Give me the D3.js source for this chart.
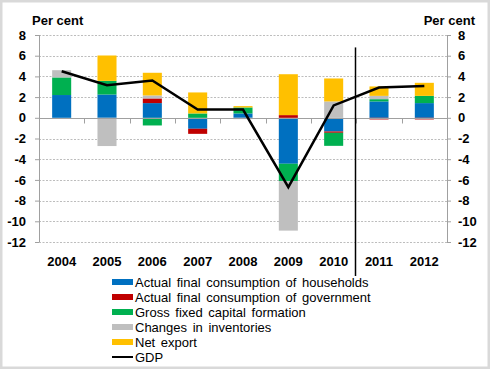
<!DOCTYPE html>
<html>
<head>
<meta charset="utf-8">
<script src="https://cdn.jsdelivr.net/npm/d3@7"></script>
<style>
  body { margin: 0; background: #fff; }
  text { font-family: "Liberation Sans", Arial, sans-serif; fill: #000; }
</style>
</head>
<body>
<div id="chart"></div>
<script>
var years = ["2004", "2005", "2006", "2007", "2008", "2009", "2010", "2011", "2012"];
var households  = [2.2, 2.25, 1.42, -1.06, 0.42, -4.44, -1.32, 1.58, 1.42];
var government  = [0, 0, 0.45, -0.49, 0, 0.26, -0.13, -0.16, -0.16];
var fixedCap    = [1.7, 1.32, -0.74, 0.42, 0.58, -1.68, -1.26, 0.22, 0.7];
var inventories = [0.7, -2.73, 0.29, 0, -0.13, -4.78, 1.58, 0.32, 0];
var netExport   = [0, 2.45, 2.19, 2.03, 0.13, 3.95, 2.22, 0.91, 1.26];
var gdp         = [4.5, 3.15, 3.6, 0.8, 0.8, -6.7, 1.2, 2.93, 3.08];
var yTicks = [8, 6, 4, 2, 0, -2, -4, -6, -8, -10, -12];

var series = [
  {name: "Actual final consumption of households", values: households, color: "#0070C0"},
  {name: "Actual final consumption of government", values: government, color: "#C00000"},
  {name: "Gross fixed capital formation", values: fixedCap, color: "#00B050"},
  {name: "Changes in inventories", values: inventories, color: "#BFBFBF"},
  {name: "Net export", values: netExport, color: "#FFC000"}
];

var width = 490, height = 369;
var svg = d3.select("#chart").append("svg")
    .attr("width", width)
    .attr("height", height);

// outer frame
svg.append("rect")
    .attr("x", 1.25).attr("y", 1.25)
    .attr("width", width - 2.5).attr("height", height - 2.5)
    .attr("fill", "#fff")
    .attr("stroke", "#D9D9D9")
    .attr("stroke-width", 2.5);

var plotLeft = 39, plotRight = 447, plotTop = 35, plotBottom = 242;

var x = d3.scaleBand().domain(years).range([plotLeft, plotRight]);
var y = d3.scaleLinear().domain([-12, 8]).range([plotBottom, plotTop]);

// gridlines
svg.append("g").selectAll("line")
    .data(yTicks.filter(function (d) { return d != 0; }))
    .enter().append("line")
    .attr("x1", plotLeft).attr("x2", plotRight)
    .attr("y1", function (d) { return Math.round(y(d)) + 0.5; })
    .attr("y2", function (d) { return Math.round(y(d)) + 0.5; })
    .attr("stroke", "#BDBDBD")
    .attr("stroke-dasharray", "2,1.5");

// stacked bars, positives up and negatives down like Excel
var barW = x.bandwidth() * 0.42;
years.forEach(function (yr, i) {
  var pos = 0, neg = 0;
  series.forEach(function (s) {
    var v = s.values[i];
    if (v == 0) return;
    var y0, y1;
    if (v > 0) { y0 = pos; y1 = pos + v; pos = y1; }
    else { y0 = neg; y1 = neg + v; neg = y1; }
    svg.append("rect")
        .attr("x", x(yr) + (x.bandwidth() - barW) / 2)
        .attr("width", barW)
        .attr("y", y(Math.max(y0, y1)))
        .attr("height", Math.abs(y(y0) - y(y1)))
        .attr("fill", s.color);
  });
});

// axes
var axisColor = "#A0A0A0";
var zeroY = Math.round(y(0)) + 0.5;
svg.append("line")
    .attr("x1", plotLeft).attr("x2", plotRight)
    .attr("y1", zeroY).attr("y2", zeroY)
    .attr("stroke", axisColor);

svg.append("g").selectAll("line")
    .data(years.slice(1))
    .enter().append("line")
    .attr("x1", function (d) { return Math.round(x(d)) + 0.5; })
    .attr("x2", function (d) { return Math.round(x(d)) + 0.5; })
    .attr("y1", zeroY).attr("y2", zeroY + 5)
    .attr("stroke", axisColor);

var yl = svg.append("g")
    .attr("transform", "translate(" + plotLeft + ",0)")
    .call(d3.axisLeft(y).tickValues(yTicks).tickSize(4).tickPadding(9));
var yr = svg.append("g")
    .attr("transform", "translate(" + plotRight + ",0)")
    .call(d3.axisRight(y).tickValues(yTicks).tickSize(4).tickPadding(7));

[yl, yr].forEach(function (g) {
  g.selectAll("path, line").attr("stroke", axisColor);
  g.select(".domain").attr("d", "M0.5," + plotTop + "V" + plotBottom);
  g.selectAll("text")
      .style("font-family", "'Liberation Sans', Arial, sans-serif")
      .style("font-size", "13px")
      .style("font-weight", "bold")
      .attr("fill", "#000")
      .text(function (d) { return d < 0 ? "-" + Math.abs(d) : d; });
});

svg.append("g").selectAll("text")
    .data(years)
    .enter().append("text")
    .attr("x", function (d) { return x(d) + x.bandwidth() / 2; })
    .attr("y", 266)
    .attr("text-anchor", "middle")
    .style("font-size", "13px")
    .style("font-weight", "bold")
    .text(function (d) { return d; });

svg.append("text").attr("x", 32).attr("y", 25)
    .style("font-size", "13px").style("font-weight", "bold")
    .text("Per cent");
svg.append("text").attr("x", 475).attr("y", 25)
    .attr("text-anchor", "end")
    .style("font-size", "13px").style("font-weight", "bold")
    .text("Per cent");

// divider between outturn and forecast
var divX = Math.round(x("2011")) - 0.5;
svg.append("line")
    .attr("x1", divX).attr("x2", divX)
    .attr("y1", y(6.8)).attr("y2", 276)
    .attr("stroke", "#000")
    .attr("stroke-width", 1.5);

// GDP line
var line = d3.line()
    .x(function (d, i) { return x(years[i]) + x.bandwidth() / 2; })
    .y(function (d) { return y(d); });
svg.append("path")
    .datum(gdp)
    .attr("d", line)
    .attr("fill", "none")
    .attr("stroke", "#000")
    .attr("stroke-width", 2.5);

// legend
var legend = svg.append("g").attr("transform", "translate(112,282)");
var items = series.map(function (s) { return {name: s.name, color: s.color, type: "bar"}; });
items.push({name: "GDP", color: "#000", type: "line"});
var li = legend.selectAll("g").data(items).enter().append("g")
    .attr("transform", function (d, i) { return "translate(0," + (i * 15) + ")"; });
li.append("rect")
    .attr("x", 0)
    .attr("y", function (d) { return d.type == "bar" ? -3 : -1; })
    .attr("width", 21)
    .attr("height", function (d) { return d.type == "bar" ? 6 : 2; })
    .attr("fill", function (d) { return d.color; });
li.append("text")
    .attr("x", 23)
    .attr("y", 5)
    .style("font-size", "13px")
    .style("word-spacing", "2px")
    .text(function (d) { return d.name; });
</script>
</body>
</html>
